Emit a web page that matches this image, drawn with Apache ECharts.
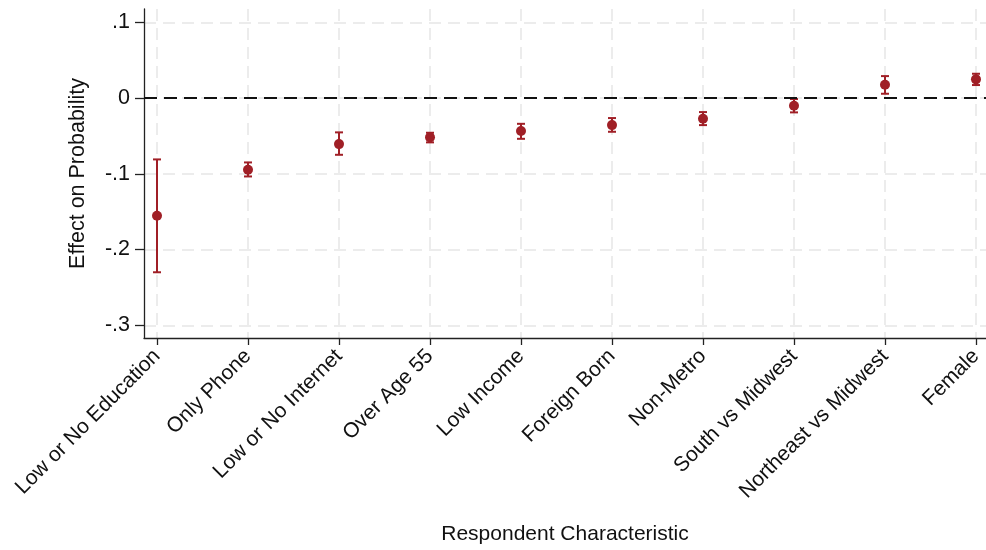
<!DOCTYPE html>
<html>
<head>
<meta charset="utf-8">
<script src="https://cdn.jsdelivr.net/npm/echarts@6/dist/echarts.min.js"></script>
<style>
  html, body { margin: 0; padding: 0; background: #fff; }
  #chart { width: 986px; height: 550px; }
</style>
</head>
<body>
<div id="chart"></div>
<script>
// Marginal effects with 95% confidence intervals
const categories = [
  'Low or No Education', 'Only Phone', 'Low or No Internet', 'Over Age 55',
  'Low Income', 'Foreign Born', 'Non-Metro', 'South vs Midwest',
  'Northeast vs Midwest', 'Female'
];
const estimates = [-0.1555, -0.0947, -0.0608, -0.0519, -0.0436, -0.0357, -0.0273, -0.0101, 0.0176, 0.0247];
const ciLower   = [-0.2300, -0.1035, -0.0749, -0.0585, -0.0538, -0.0445, -0.0357, -0.0189, 0.0057, 0.0172];
const ciUpper   = [-0.0810, -0.0850, -0.0453, -0.0458, -0.0340, -0.0264, -0.0185, -0.0013, 0.0290, 0.0321];
const yTicks = [-0.3, -0.2, -0.1, 0, 0.1];

const red = '#a01f26';
const font = '"Liberation Sans", Arial, Helvetica, sans-serif';
const gridLine = { show: true, lineStyle: { color: '#e6e6e6', width: 1.5, type: [12, 7] } };

const xIdx = categories.map((_, i) => i);
const points = estimates.map((v, i) => [i, v]);
const bars = categories.map((_, i) => [i, ciLower[i], ciUpper[i]]);

const chart = echarts.init(document.getElementById('chart'), null, { renderer: 'canvas' });
chart.setOption({
  animation: false,
  backgroundColor: '#ffffff',
  grid: { left: 144, right: 0, top: 9, bottom: 212, containLabel: false },
  xAxis: {
    type: 'value',
    min: -0.143, max: 9.11,
    name: 'Respondent Characteristic',
    nameLocation: 'middle',
    nameGap: 186,
    nameTextStyle: { fontFamily: font, fontSize: 21, color: '#111' },
    axisLine: { show: true, onZero: false, lineStyle: { color: '#222', width: 1.3 } },
    axisTick: { show: true, customValues: xIdx, length: 7, lineStyle: { color: '#222', width: 1.3 } },
    axisLabel: {
      customValues: xIdx,
      rotate: 45, margin: 15,
      fontFamily: font, fontSize: 21, color: '#111',
      formatter: v => categories[Math.round(v)]
    },
    splitLine: gridLine
  },
  yAxis: {
    type: 'value',
    min: -0.3168, max: 0.1176,
    name: 'Effect on Probability',
    nameLocation: 'middle',
    nameGap: 55,
    nameRotate: 90,
    nameTextStyle: { fontFamily: font, fontSize: 21.5, color: '#111' },
    axisLine: { show: true, onZero: false, lineStyle: { color: '#222', width: 1.3 } },
    axisTick: { show: true, customValues: yTicks, length: 9, lineStyle: { color: '#222', width: 1.3 } },
    axisLabel: {
      customValues: yTicks,
      margin: 14,
      fontFamily: font, fontSize: 21.5, color: '#111',
      formatter: v => {
        if (Math.abs(v) < 1e-9) return '0';
        return (v < 0 ? '-' : '') + Math.abs(v).toFixed(1).replace(/^0/, '');
      }
    },
    splitLine: gridLine
  },
  series: [
    {
      type: 'custom',
      name: 'CI',
      data: bars,
      z: 3,
      renderItem: (params, api) => {
        const x = api.value(0);
        const lo = api.coord([x, api.value(1)]);
        const hi = api.coord([x, api.value(2)]);
        const half = 4;
        const style = { stroke: red, lineWidth: 2 };
        return {
          type: 'group',
          children: [
            { type: 'line', shape: { x1: lo[0], y1: lo[1], x2: hi[0], y2: hi[1] }, style },
            { type: 'line', shape: { x1: lo[0] - half, y1: lo[1], x2: lo[0] + half, y2: lo[1] }, style },
            { type: 'line', shape: { x1: hi[0] - half, y1: hi[1], x2: hi[0] + half, y2: hi[1] }, style }
          ]
        };
      }
    },
    {
      type: 'scatter',
      name: 'Estimate',
      data: points,
      symbol: 'circle',
      symbolSize: 10,
      z: 4,
      itemStyle: { color: red, opacity: 1 },
      markLine: {
        silent: true,
        symbol: 'none',
        label: { show: false },
        lineStyle: { color: '#111', width: 2, type: [13, 7] },
        data: [{ yAxis: 0 }]
      }
    }
  ]
});
</script>
</body>
</html>
